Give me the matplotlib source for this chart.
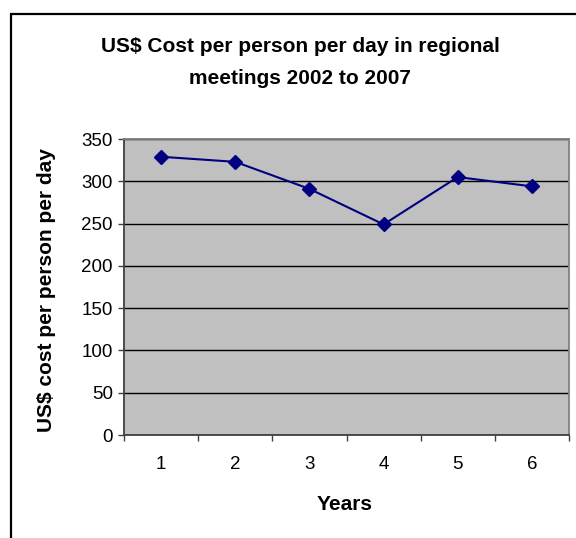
import matplotlib.pyplot as plt
from matplotlib.patches import Rectangle

plt.rcParams['font.family'] = ['Liberation Sans', 'DejaVu Sans']

years = [1, 2, 3, 4, 5, 6]
cost_per_day = [329, 323, 291, 249, 305, 294]
y_ticks = [0, 50, 100, 150, 200, 250, 300, 350]

W, H = 576, 538
fig = plt.figure(figsize=(W / 100, H / 100), dpi=100)
fig.patch.set_facecolor('white')

# chart area frame (runs off the right and bottom edges)
fig.add_artist(Rectangle((11 / W, -0.1), 1.0, (H - 14) / H + 0.1,
                         transform=fig.transFigure, fill=False,
                         edgecolor='black', linewidth=1.6))

ax = fig.add_axes([124 / W, (H - 435) / H, 445 / W, 296 / H])
ax.set_facecolor('#C0C0C0')

ax.plot(years, cost_per_day, color='#000080', linewidth=1.5,
        marker='D', markersize=7.5, markerfacecolor='#000080',
        markeredgecolor='#000080', zorder=3)

ax.set_xlim(0.5, 6.5)
ax.set_ylim(0, 350)
ax.set_yticks(y_ticks)
ax.set_xticks(years)
ax.set_xticks([i + 0.5 for i in range(7)], minor=True)
ax.grid(axis='y', color='black', linewidth=1.0)
ax.set_axisbelow(True)

ax.tick_params(axis='y', which='major', direction='out', length=4,
               width=1, color='#404040', pad=4, labelsize=13.5)
ax.tick_params(axis='x', which='major', length=0, pad=15, labelsize=13.5)
ax.tick_params(axis='x', which='minor', direction='out', length=4,
               width=1, color='#404040')

for side in ('left', 'bottom'):
    ax.spines[side].set_color('#404040')
    ax.spines[side].set_linewidth(1.3)
for side in ('top', 'right'):
    ax.spines[side].set_color('#808080')
    ax.spines[side].set_linewidth(1.3)

bold = dict(fontsize=15, fontweight='bold')
fig.text(300 / W, 1 - 47 / H, 'US$ Cost per person per day in regional',
         ha='center', va='center', **bold)
fig.text(300 / W, 1 - 78 / H, 'meetings 2002 to 2007',
         ha='center', va='center', **bold)
fig.text(47 / W, 1 - 290 / H, 'US$ cost per person per day',
         rotation=90, ha='center', va='center', **bold)
fig.text(345 / W, 1 - 504 / H, 'Years', ha='center', va='center', **bold)

fig.savefig('out.png', dpi=100)
